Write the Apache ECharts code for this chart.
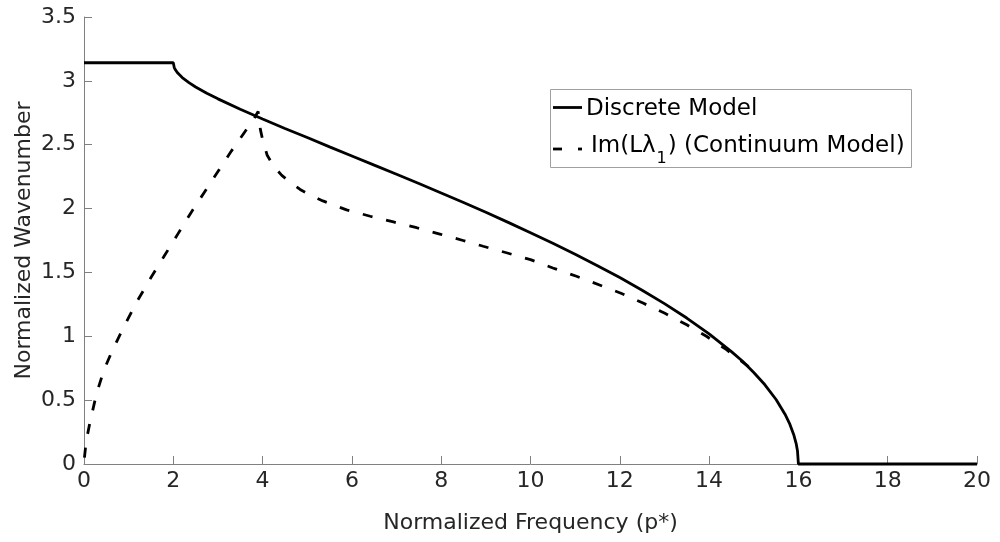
<!DOCTYPE html>
<html>
<head>
<meta charset="utf-8">
<script src="https://cdn.jsdelivr.net/npm/echarts@6/dist/echarts.min.js"></script>
<style>
html,body{margin:0;padding:0;background:#fff;}
#chart{width:1000px;height:542px;}
</style>
</head>
<body>
<div id="chart"></div>
<script>
// Axis ticks
var xTicks = [0, 2, 4, 6, 8, 10, 12, 14, 16, 18, 20];
var yTicks = [0, 0.5, 1, 1.5, 2, 2.5, 3, 3.5];

// Discrete Model: [normalized frequency, normalized wavenumber]
var discreteX = [0, 2, 2.02, 2.05, 2.1, 2.2, 2.35, 2.5, 2.75, 3, 3.5, 4, 4.5, 5, 5.5, 6, 6.5, 7, 7.5, 8, 8.5, 9, 9.5, 10, 10.5, 11, 11.5, 12, 12.5, 13, 13.5, 14, 14.5, 14.75, 15, 15.25, 15.5, 15.7, 15.8, 15.9, 15.95, 15.98, 16, 20];
var discreteY = [3.1416, 3.1416, 3.106, 3.085, 3.061, 3.026, 2.986, 2.952, 2.903, 2.859, 2.777, 2.701, 2.627, 2.556, 2.483, 2.412, 2.340, 2.269, 2.196, 2.122, 2.047, 1.971, 1.892, 1.811, 1.728, 1.642, 1.553, 1.460, 1.361, 1.256, 1.143, 1.019, 0.880, 0.804, 0.716, 0.620, 0.505, 0.390, 0.319, 0.225, 0.160, 0.101, 0, 0];

// Im(L lambda_1) (Continuum Model)
var contX = [0.01, 0.05, 0.13, 0.28, 0.45, 0.65, 0.9, 1.2, 1.5, 1.8, 2.1, 2.4, 2.7, 3.0, 3.3, 3.6, 3.8, 3.9, 3.95, 4.0, 4.1, 4.25, 4.43, 4.6, 4.84, 5.1, 5.35, 5.88, 6.41, 6.93, 7.45, 7.97, 8.49, 8.94, 9.5, 10.0, 10.5, 11.03, 11.56, 12.04, 12.52, 13.01, 13.5, 13.94, 14.39, 14.84, 14.95];
var contY = [0.05, 0.18, 0.32, 0.55, 0.74, 0.90, 1.08, 1.28, 1.46, 1.63, 1.80, 1.97, 2.13, 2.29, 2.45, 2.60, 2.70, 2.76, 2.62, 2.54, 2.42, 2.33, 2.26, 2.21, 2.15, 2.10, 2.06, 1.99, 1.94, 1.895, 1.85, 1.80, 1.75, 1.705, 1.65, 1.60, 1.535, 1.47, 1.40, 1.335, 1.26, 1.18, 1.09, 1.00, 0.895, 0.775, 0.74];

var seriesNames = ['Discrete Model', 'Im(Lλ1) (Continuum Model)'];
var legendMain = 'Im(Lλ';
var legendSub = '1';
var legendRest = ') (Continuum Model)';

function zip(a, b) { return a.map(function (v, i) { return [v, b[i]]; }); }

var FONT = '"DejaVu Sans", Verdana, sans-serif';
var TXT = '#262626';
var LW = 2.8;

function textWidth(str, font) {
  var c = document.createElement('canvas').getContext('2d');
  c.font = font;
  return c.measureText(str).width;
}

var chart = echarts.init(document.getElementById('chart'), null, {renderer: 'canvas'});

var legFont = '23px ' + FONT;
var subFont = '16px ' + FONT;
var x2 = 591;
var wMain = textWidth(legendMain, legFont);
var wSub = textWidth(legendSub, subFont);

var option = {
  animation: false,
  backgroundColor: '#ffffff',
  grid: {left: 84, right: 23, top: 17, bottom: 78, containLabel: false},
  xAxis: {
    type: 'value', min: 0, max: 20, interval: 2,
    name: 'Normalized Frequency (p*)', nameLocation: 'middle', nameGap: 48,
    nameTextStyle: {fontFamily: FONT, fontSize: 22, color: TXT},
    axisLine: {show: true, onZero: false, lineStyle: {color: '#808080', width: 1}},
    axisTick: {show: true, inside: true, length: 8, lineStyle: {color: '#808080'}},
    axisLabel: {fontFamily: FONT, fontSize: 22, color: TXT, margin: 6,
      formatter: function (v) { return xTicks.indexOf(v) >= 0 ? String(v) : ''; }},
    splitLine: {show: false}
  },
  yAxis: {
    type: 'value', min: 0, max: 3.5, interval: 0.5,
    name: 'Normalized Wavenumber', nameLocation: 'middle', nameGap: 49, nameRotate: 90,
    nameMoveOverlap: false,
    nameTextStyle: {fontFamily: FONT, fontSize: 22, color: TXT},
    axisLine: {show: true, onZero: false, lineStyle: {color: '#808080', width: 1}},
    axisTick: {show: true, inside: true, length: 8, lineStyle: {color: '#808080'}},
    axisLabel: {fontFamily: FONT, fontSize: 22, color: TXT, margin: 8,
      formatter: function (v) { return yTicks.indexOf(v) >= 0 ? String(v) : ''; }},
    splitLine: {show: false}
  },
  series: [
    {
      name: seriesNames[0], type: 'line', data: zip(discreteX, discreteY),
      showSymbol: false, smooth: false, clip: false,
      lineStyle: {color: '#000000', width: LW}
    },
    {
      name: seriesNames[1], type: 'line', data: zip(contX, contY),
      showSymbol: false, smooth: false, clip: false,
      lineStyle: {color: '#000000', width: LW, type: [10, 14], cap: 'butt'}
    }
  ],
  graphic: [
    {type: 'rect', shape: {x: 550.5, y: 89.5, width: 361, height: 78},
      style: {fill: '#ffffff', stroke: '#a0a0a0', lineWidth: 1}, z: 10},
    {type: 'line', shape: {x1: 553, y1: 107.5, x2: 582, y2: 107.5},
      style: {stroke: '#000', lineWidth: LW}, z: 11},
    {type: 'line', shape: {x1: 553, y1: 149, x2: 562, y2: 149},
      style: {stroke: '#000', lineWidth: LW}, z: 11},
    {type: 'line', shape: {x1: 578, y1: 149, x2: 582, y2: 149},
      style: {stroke: '#000', lineWidth: LW}, z: 11},
    {type: 'text', x: 586, y: 109, z: 11,
      style: {text: seriesNames[0], font: legFont, fill: '#000', verticalAlign: 'middle', align: 'left'}},
    {type: 'text', x: x2, y: 146, z: 11,
      style: {text: legendMain, font: legFont, fill: '#000', verticalAlign: 'middle', align: 'left'}},
    {type: 'text', x: x2 + wMain + 1, y: 159, z: 11,
      style: {text: legendSub, font: subFont, fill: '#000', verticalAlign: 'middle', align: 'left'}},
    {type: 'text', x: x2 + wMain + wSub + 2, y: 146, z: 11,
      style: {text: legendRest, font: legFont, fill: '#000', verticalAlign: 'middle', align: 'left'}}
  ]
};
chart.setOption(option);
</script>
</body>
</html>
